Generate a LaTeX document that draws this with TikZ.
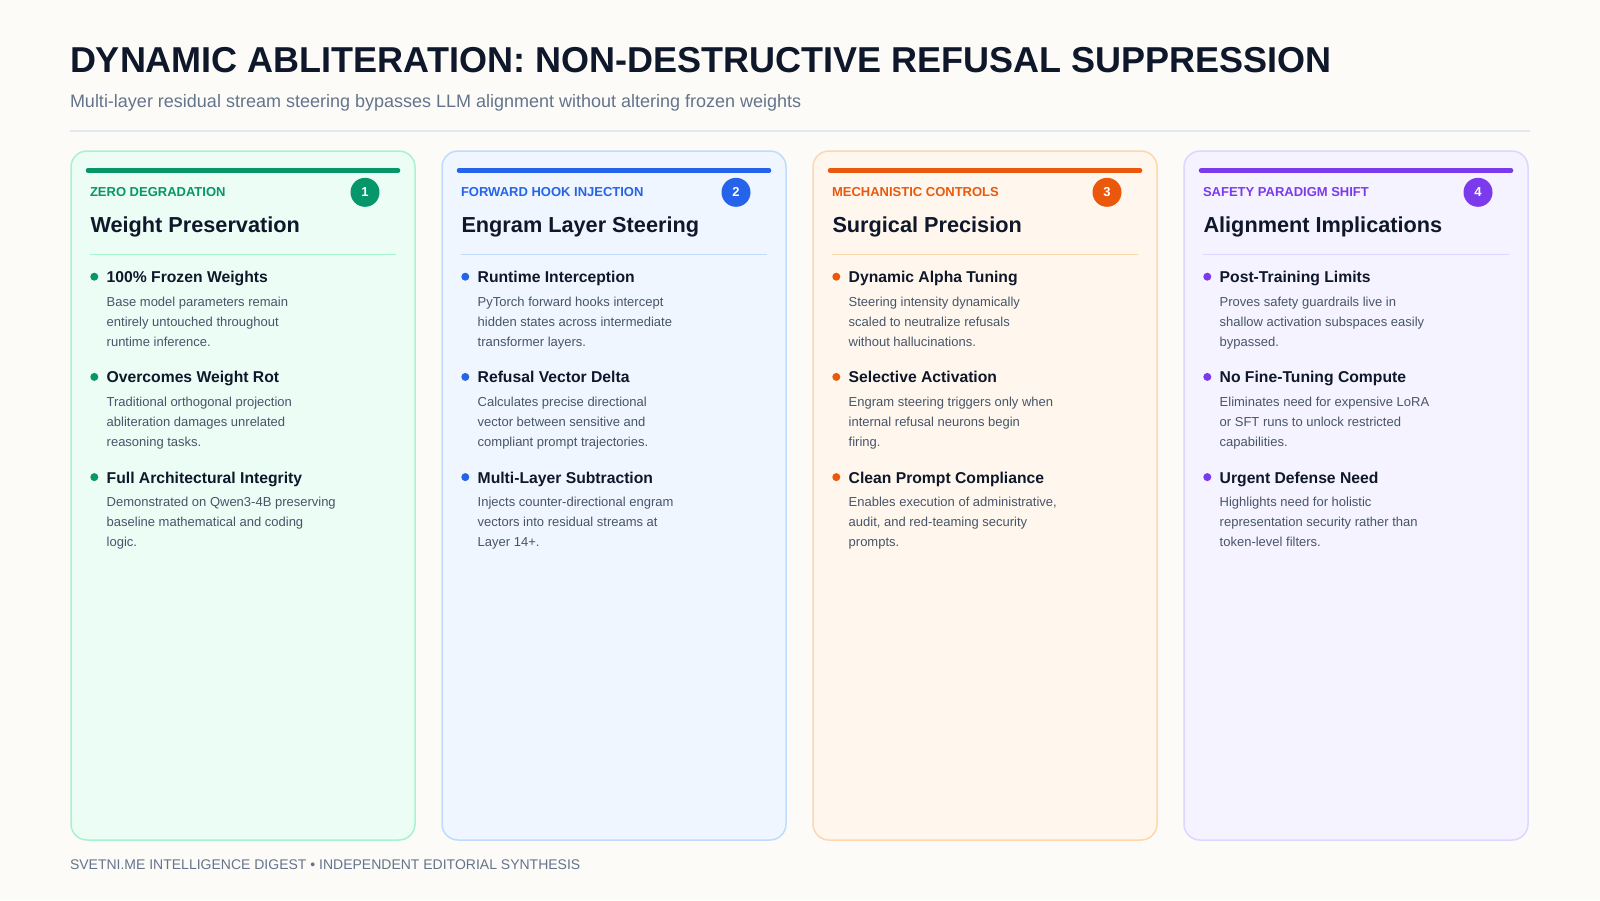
\documentclass[tikz,border=0pt]{standalone}
\usepackage{fontspec}
\setmainfont{Liberation Sans}
\definecolor{bg}{HTML}{FCFBF8}
\definecolor{ink}{HTML}{0F172A}
\definecolor{subc}{HTML}{64748B}
\definecolor{rulec}{HTML}{E2E8F0}
\definecolor{descc}{HTML}{475569}
\definecolor{gA}{HTML}{059669}\definecolor{gF}{HTML}{ECFDF5}\definecolor{gB}{HTML}{A7F3D0}
\definecolor{bA}{HTML}{2563EB}\definecolor{bF}{HTML}{EFF6FF}\definecolor{bB}{HTML}{BFDBFE}
\definecolor{oA}{HTML}{EA580C}\definecolor{oF}{HTML}{FFF7ED}\definecolor{oB}{HTML}{FED7AA}
\definecolor{pA}{HTML}{7C3AED}\definecolor{pF}{HTML}{F5F3FF}\definecolor{pB}{HTML}{DDD6FE}
\tikzset{
  txt/.style={anchor=base west,inner sep=0pt,outer sep=0pt},
  maintitle/.style={txt,text=ink,font=\fontsize{36}{40}\selectfont\bfseries},
  subtitle/.style={txt,text=subc,font=\fontsize{18}{21}\selectfont},
  footer/.style={txt,text=subc,font=\fontsize{14}{16}\selectfont},
  cardbox/.style={rectangle,rounded corners=16pt,line width=1.5pt,inner sep=0pt,minimum width=344pt,minimum height=689pt},
  tagtxt/.style={txt,font=\fontsize{13}{15}\selectfont\bfseries},
  headtxt/.style={txt,text=ink,font=\fontsize{21.7}{26}\selectfont\bfseries},
  badge/.style={circle,inner sep=0pt,minimum size=29pt,text=white,font=\fontsize{13}{15}\selectfont\bfseries},
  btitle/.style={txt,text=ink,font=\fontsize{15.7}{18}\selectfont\bfseries},
  bdesc/.style={txt,text=descc,font=\fontsize{13}{15}\selectfont},
  bdot/.style={circle,inner sep=0pt,minimum size=8pt},
  topbar/.style={line width=4.5pt,line cap=round},
}
% #1 name, #2 left x, #3 baseline y, #4 colour, #5 title, #6-#8 lines
\newcommand\bitem[8]{%
  \node[bdot,fill=#4] (#1d) at (#2+23.3,#3-6) {};
  \node[btitle] (#1t) at (#2+35.7,#3) {#5};
  \node[bdesc] (#1a) at (#2+35.7,#3+23.4) {#6};
  \node[bdesc] (#1b) at (#2+35.7,#3+43.4) {#7};
  \node[bdesc] (#1c) at (#2+35.7,#3+63.4) {#8};
}
% #1 name, #2 left x, #3 accent, #4 fill, #5 border, #6 tag, #7 heading, #8 number
\newcommand\cardframe[8]{%
  \node[cardbox,draw=#5,fill=#4] (#1) at (#2+172,495.5) {};
  \coordinate (#1bl) at (#2+17,170.5);
  \coordinate (#1br) at (#2+327,170.5);
  \draw[topbar,#3] (#1bl) -- (#1br);
  \node[tagtxt,text=#3] (#1tag) at (#2+19,196) {#6};
  \node[badge,fill=#3] (#1num) at (#2+294,192.3) {#8};
  \node[headtxt] (#1head) at (#2+19.5,232) {#7};
  \coordinate (#1dl) at (#2+19,254.5);
  \coordinate (#1dr) at (#2+325,254.5);
  \draw[#5,line width=1pt] (#1dl) -- (#1dr);
}
\begin{document}
\begin{tikzpicture}[x=1pt,y=-1pt]
\fill[bg] (0,0) rectangle (1600,900);
\useasboundingbox (0,0) rectangle (1600,900);
\node[maintitle] (title) at (70,72.7) {DYNAMIC ABLITERATION: NON-DESTRUCTIVE REFUSAL SUPPRESSION};
\node[subtitle] (sub) at (70,107) {Multi-layer residual stream steering bypasses LLM alignment without altering frozen weights};
\coordinate (rl) at (70,130.7);
\coordinate (rr) at (1530,130.7);
\draw[rulec,line width=2pt] (rl) -- (rr);

\cardframe{c1}{71}{gA}{gF}{gB}{ZERO DEGRADATION}{Weight Preservation}{1}
\bitem{c1i1}{71}{282.7}{gA}{100\% Frozen Weights}{Base model parameters remain}{entirely untouched throughout}{runtime inference.}
\bitem{c1i2}{71}{382.9}{gA}{Overcomes Weight Rot}{Traditional orthogonal projection}{abliteration damages unrelated}{reasoning tasks.}
\bitem{c1i3}{71}{483.1}{gA}{Full Architectural Integrity}{Demonstrated on Qwen3-4B preserving}{baseline mathematical and coding}{logic.}

\cardframe{c2}{442}{bA}{bF}{bB}{FORWARD HOOK INJECTION}{Engram Layer Steering}{2}
\bitem{c2i1}{442}{282.7}{bA}{Runtime Interception}{PyTorch forward hooks intercept}{hidden states across intermediate}{transformer layers.}
\bitem{c2i2}{442}{382.9}{bA}{Refusal Vector Delta}{Calculates precise directional}{vector between sensitive and}{compliant prompt trajectories.}
\bitem{c2i3}{442}{483.1}{bA}{Multi-Layer Subtraction}{Injects counter-directional engram}{vectors into residual streams at}{Layer 14+.}

\cardframe{c3}{813}{oA}{oF}{oB}{MECHANISTIC CONTROLS}{Surgical Precision}{3}
\bitem{c3i1}{813}{282.7}{oA}{Dynamic Alpha Tuning}{Steering intensity dynamically}{scaled to neutralize refusals}{without hallucinations.}
\bitem{c3i2}{813}{382.9}{oA}{Selective Activation}{Engram steering triggers only when}{internal refusal neurons begin}{firing.}
\bitem{c3i3}{813}{483.1}{oA}{Clean Prompt Compliance}{Enables execution of administrative,}{audit, and red-teaming security}{prompts.}

\cardframe{c4}{1184}{pA}{pF}{pB}{SAFETY PARADIGM SHIFT}{Alignment Implications}{4}
\bitem{c4i1}{1184}{282.7}{pA}{Post-Training Limits}{Proves safety guardrails live in}{shallow activation subspaces easily}{bypassed.}
\bitem{c4i2}{1184}{382.9}{pA}{No Fine-Tuning Compute}{Eliminates need for expensive LoRA}{or SFT runs to unlock restricted}{capabilities.}
\bitem{c4i3}{1184}{483.1}{pA}{Urgent Defense Need}{Highlights need for holistic}{representation security rather than}{token-level filters.}

\node[footer] (foot) at (70,869) {SVETNI.ME INTELLIGENCE DIGEST • INDEPENDENT EDITORIAL SYNTHESIS};
\end{tikzpicture}
\end{document}
